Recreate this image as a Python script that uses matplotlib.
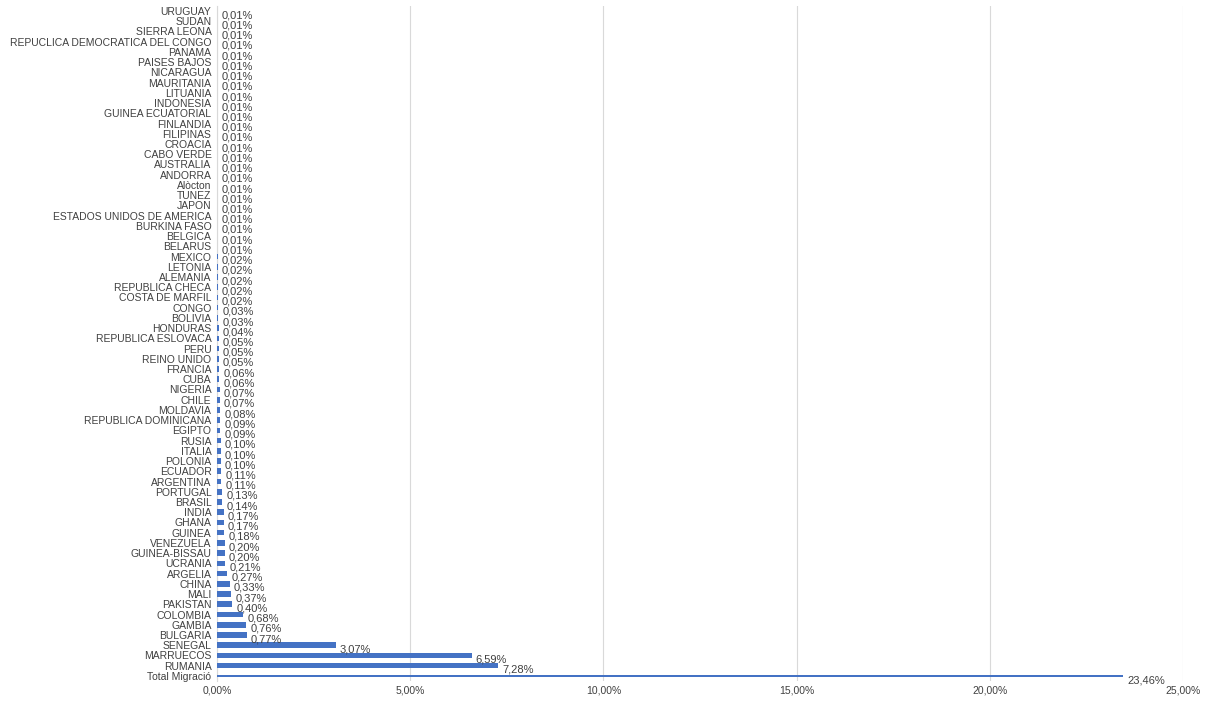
import matplotlib.pyplot as plt
from matplotlib.ticker import FuncFormatter

# categories listed top to bottom as in the chart
countries = [
    "URUGUAY", "SUDAN", "SIERRA LEONA", "REPUCLICA DEMOCRATICA DEL CONGO", "PANAMA",
    "PAISES BAJOS", "NICARAGUA", "MAURITANIA", "LITUANIA", "INDONESIA",
    "GUINEA ECUATORIAL", "FINLANDIA", "FILIPINAS", "CROACIA", "CABO VERDE",
    "AUSTRALIA", "ANDORRA", "Alòcton", "TUNEZ", "JAPON",
    "ESTADOS UNIDOS DE AMERICA", "BURKINA FASO", "BELGICA", "BELARUS", "MEXICO",
    "LETONIA", "ALEMANIA", "REPUBLICA CHECA", "COSTA DE MARFIL", "CONGO",
    "BOLIVIA", "HONDURAS", "REPUBLICA ESLOVACA", "PERU", "REINO UNIDO",
    "FRANCIA", "CUBA", "NIGERIA", "CHILE", "MOLDAVIA",
    "REPUBLICA DOMINICANA", "EGIPTO", "RUSIA", "ITALIA", "POLONIA",
    "ECUADOR", "ARGENTINA", "PORTUGAL", "BRASIL", "INDIA",
    "GHANA", "GUINEA", "VENEZUELA", "GUINEA-BISSAU", "UCRANIA",
    "ARGELIA", "CHINA", "MALI", "PAKISTAN", "COLOMBIA",
    "GAMBIA", "BULGARIA", "SENEGAL", "MARRUECOS", "RUMANIA",
    "Total Migració",
]

# percentages, same order
values = [
    0.01, 0.01, 0.01, 0.01, 0.01,
    0.01, 0.01, 0.01, 0.01, 0.01,
    0.01, 0.01, 0.01, 0.01, 0.01,
    0.01, 0.01, 0.01, 0.01, 0.01,
    0.01, 0.01, 0.01, 0.01, 0.02,
    0.02, 0.02, 0.02, 0.02, 0.03,
    0.03, 0.04, 0.05, 0.05, 0.05,
    0.06, 0.06, 0.07, 0.07, 0.08,
    0.09, 0.09, 0.10, 0.10, 0.10,
    0.11, 0.11, 0.13, 0.14, 0.17,
    0.17, 0.18, 0.20, 0.20, 0.21,
    0.27, 0.33, 0.37, 0.40, 0.68,
    0.76, 0.77, 3.07, 6.59, 7.28,
    23.46,
]

xticks = [0, 5, 10, 15, 20, 25]

bar_color = "#4472C4"
text_color = "#404040"
narrow = ["Liberation Sans Narrow", "Liberation Sans", "DejaVu Sans"]
regular = ["Liberation Sans", "DejaVu Sans"]
plt.rcParams["font.family"] = narrow


def pct(v, pos=None):
    return f"{v:.2f}%".replace(".", ",")


fig = plt.figure(figsize=(12.24, 7.03), dpi=100)
ax = fig.add_axes([0.1773, 0.0313, 0.7892, 0.9603])

n = len(countries)
ypos = [n - 1 - i for i in range(n)]
heights = [0.55] * n
heights[-1] = 0.15  # the total is drawn as a thin line in the original

ax.barh(ypos, values, height=heights, color=bar_color, zorder=3)

for y, v in zip(ypos, values):
    ax.annotate(pct(v), xy=(v, y), xytext=(3, -3), textcoords="offset points",
                ha="left", va="center", fontsize=8, color=text_color,
                family=regular)

ax.set_xlim(0, 25)
ax.set_ylim(-0.5, n - 0.5)
ax.set_xticks(xticks)
ax.xaxis.set_major_formatter(FuncFormatter(pct))
ax.set_yticks(ypos)
ax.set_yticklabels(countries)

ax.tick_params(axis="y", length=0, pad=4, labelsize=7.5, labelcolor=text_color)
ax.tick_params(axis="x", length=0, pad=3, labelsize=7.5, labelcolor=text_color)
for lbl in ax.get_xticklabels():
    lbl.set_family(regular)
ax.grid(axis="x", color="#d9d9d9", linewidth=0.8, zorder=0)

for side in ["top", "right", "bottom"]:
    ax.spines[side].set_visible(False)
ax.spines["left"].set_color("#d9d9d9")
ax.spines["left"].set_linewidth(0.8)

fig.savefig("out.png", dpi=100)
